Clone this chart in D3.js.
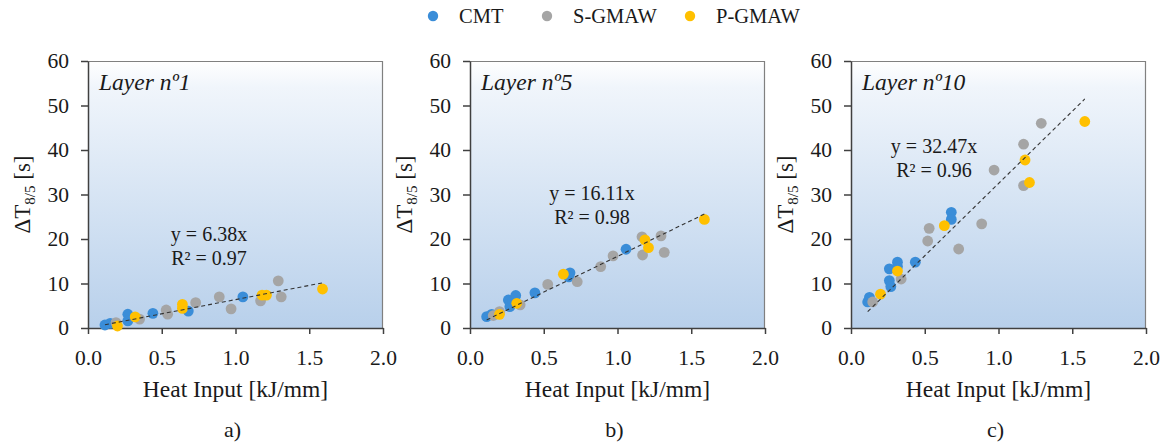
<!DOCTYPE html>
<html><head><meta charset="utf-8">
<script src="https://cdn.jsdelivr.net/npm/d3@7"></script>
<style>body{margin:0;background:#fff} svg{display:block}</style>
</head><body><svg id="chart" width="1168" height="445" font-family="Liberation Serif"></svg>
<script>
const seriesNames = ["CMT", "S-GMAW", "P-GMAW"];
const seriesColors = ["#3a8dd8", "#a5a5a5", "#ffc000"];
const panelLabels = ["Layer nº1", "Layer nº5", "Layer nº10"];
const panelLetters = ["a)", "b)", "c)"];
const slopes = [6.38, 16.11, 32.47];
const r2Values = [0.97, 0.98, 0.96];
const xTicks = [0, 0.5, 1.0, 1.5, 2.0];
const yTicks = [0, 10, 20, 30, 40, 50, 60];

// [heat input kJ/mm, ΔT8/5 s]
const layer1CMT = [[0.115,0.67],[0.15,1.05],[0.27,3.1],[0.27,1.6],[0.44,3.3],[0.68,3.8],[1.05,7.0]];
const layer1SGMAW = [[0.19,1.2],[0.35,2.0],[0.53,4.05],[0.54,3.1],[0.73,5.7],[0.89,7.0],[0.97,4.3],[1.17,6.1],[1.29,10.6],[1.31,7.0]];
const layer1PGMAW = [[0.2,0.45],[0.32,2.5],[0.64,5.3],[0.64,4.4],[1.18,7.4],[1.21,7.4],[1.59,8.76]];

const layer5CMT = [[0.113,2.55],[0.147,3.07],[0.26,6.3],[0.27,4.8],[0.29,6.0],[0.31,7.3],[0.44,7.9],[0.678,12.4],[0.67,11.5],[1.058,17.7]];
const layer5SGMAW = [[0.158,2.8],[0.2,3.7],[0.34,5.2],[0.527,9.8],[0.727,10.4],[0.886,13.8],[0.97,16.2],[1.166,20.5],[1.17,16.4],[1.295,20.7],[1.317,17.0]];
const layer5PGMAW = [[0.2,3.07],[0.317,5.55],[0.633,12.1],[1.186,19.8],[1.21,18.05],[1.589,24.4]];

const layer10CMT = [[0.113,5.85],[0.125,6.9],[0.26,10.65],[0.27,9.3],[0.26,13.3],[0.315,14.8],[0.315,13.8],[0.436,14.8],[0.68,26.0],[0.68,24.4]];
const layer10SGMAW = [[0.147,5.85],[0.34,11.0],[0.52,19.55],[0.53,22.4],[0.73,17.75],[0.886,23.4],[0.97,35.5],[1.17,41.3],[1.17,32.0],[1.29,46.0]];
const layer10PGMAW = [[0.2,7.6],[0.315,12.8],[0.633,23.0],[1.18,37.75],[1.21,32.7],[1.585,46.4]];

const panels = [
  [layer1CMT, layer1SGMAW, layer1PGMAW],
  [layer5CMT, layer5SGMAW, layer5PGMAW],
  [layer10CMT, layer10SGMAW, layer10PGMAW]
];

const svg = d3.select("#chart");
const FONT = "Liberation Serif";

const defs = svg.append("defs");
const grad = defs.append("linearGradient").attr("id", "bg").attr("x1", 0).attr("y1", 0).attr("x2", 0).attr("y2", 1);
grad.append("stop").attr("offset", "0%").attr("stop-color", "#ffffff");
grad.append("stop").attr("offset", "10%").attr("stop-color", "#f0f5fb");
grad.append("stop").attr("offset", "100%").attr("stop-color", "#b8d0eb");

const plotLefts = [88, 470, 851];
const plotW = 295, plotTop = 61, plotH = 267;

panels.forEach((series, pi) => {
  const g = svg.append("g").attr("transform", `translate(${plotLefts[pi]},${plotTop})`);
  const x = d3.scaleLinear().domain([0, 2]).range([0, plotW]);
  const y = d3.scaleLinear().domain([0, 60]).range([plotH, 0]);

  g.append("rect").attr("width", plotW).attr("height", plotH).attr("fill", "url(#bg)");
  g.append("path").attr("d", `M0,0.5H${plotW - 0.5}V${plotH}`).attr("fill", "none").attr("stroke", "#808080").attr("stroke-width", 1.2);

  const xAxis = g.append("g").attr("transform", `translate(0,${plotH})`)
    .call(d3.axisBottom(x).tickValues(xTicks).tickFormat(d3.format(".1f")).tickSize(6).tickSizeOuter(0).tickPadding(16));
  const yAxis = g.append("g")
    .call(d3.axisLeft(y).tickValues(yTicks).tickSize(7).tickSizeOuter(0).tickPadding(12));
  [xAxis, yAxis].forEach(a => {
    a.attr("font-family", FONT).attr("font-size", 21.5);
    a.selectAll("path,line").attr("stroke", "#404040").attr("stroke-width", 1.5);
    a.selectAll("text").attr("font-family", FONT).attr("font-size", 21.5).attr("fill", "#1a1a1a");
  });

  series.forEach((pts, si) => {
    g.append("g").selectAll("circle").data(pts).join("circle")
      .attr("cx", d => x(d[0])).attr("cy", d => y(d[1])).attr("r", 5.4)
      .attr("fill", seriesColors[si]);
  });

  const all = series.flat();
  const xmin = d3.min(all, d => d[0]), xmax = d3.max(all, d => d[0]);
  g.append("line")
    .attr("x1", x(xmin)).attr("y1", y(slopes[pi] * xmin))
    .attr("x2", x(xmax)).attr("y2", y(slopes[pi] * xmax))
    .attr("stroke", "#333").attr("stroke-width", 1.1).attr("stroke-dasharray", "4,3");

  g.append("text").attr("x", 11).attr("y", 29).text(panelLabels[pi])
    .attr("font-family", FONT).attr("font-style", "italic").attr("font-size", 23.5).attr("fill", "#1a1a1a");

  const eqX = [121, 122, 83][pi], eqY = [180, 139, 92][pi];
  const eq = g.append("text").attr("font-family", FONT).attr("font-size", 20).attr("fill", "#1a1a1a").attr("text-anchor", "middle");
  eq.append("tspan").attr("x", eqX).attr("y", eqY).text(`y = ${slopes[pi].toFixed(2)}x`);
  eq.append("tspan").attr("x", eqX).attr("y", eqY + 24).text(`R² = ${r2Values[pi].toFixed(2)}`);

  g.append("text").attr("x", plotW / 2).attr("y", 336).attr("text-anchor", "middle")
    .attr("font-family", FONT).attr("font-size", 23.5).attr("fill", "#1a1a1a").text("Heat Input [kJ/mm]");
  g.append("text").attr("x", plotW / 2 - 3).attr("y", 376).attr("text-anchor", "middle")
    .attr("font-family", FONT).attr("font-size", 22).attr("fill", "#1a1a1a").text(panelLetters[pi]);

  const yt = g.append("text").attr("transform", `translate(-58,${plotH / 2}) rotate(-90)`)
    .attr("text-anchor", "middle").attr("font-family", FONT).attr("font-size", 23).attr("fill", "#1a1a1a");
  yt.append("tspan").text("ΔT");
  yt.append("tspan").attr("font-size", 15).attr("dy", 5).text("8/5");
  yt.append("tspan").attr("dy", -5).text(" [s]");
});

const legendX = [433, 547, 690];
const lg = svg.append("g");
seriesNames.forEach((n, i) => {
  lg.append("circle").attr("cx", legendX[i]).attr("cy", 16).attr("r", 5.2).attr("fill", seriesColors[i]);
  lg.append("text").attr("x", legendX[i] + 26).attr("y", 23).text(n)
    .attr("font-family", FONT).attr("font-size", 20.5).attr("fill", "#1a1a1a");
});
</script></body></html>
